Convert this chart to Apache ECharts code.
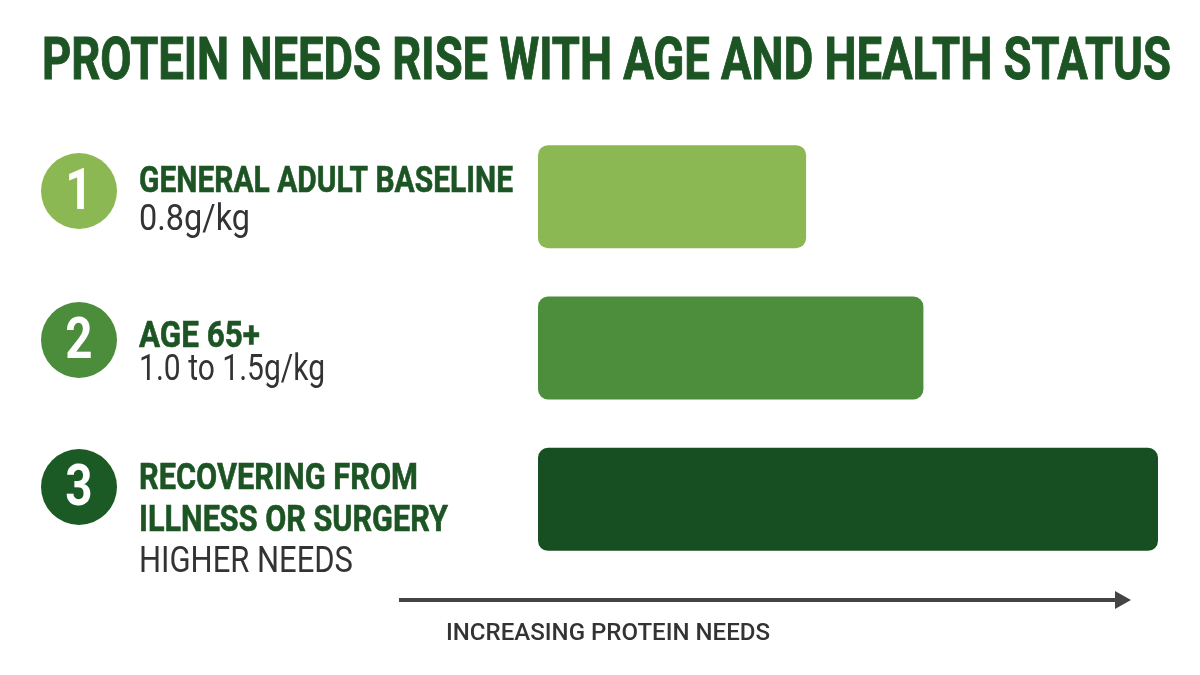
<!DOCTYPE html>
<html><head><meta charset="utf-8">
<script src="https://cdn.jsdelivr.net/npm/echarts@6/dist/echarts.min.js"></script>
<style>html,body{margin:0;padding:0;background:#ffffff}#c{width:1200px;height:675px}</style>
</head><body><div id="c"></div>
<script>
// ---- data ----
const titleText = 'PROTEIN NEEDS RISE WITH AGE AND HEALTH STATUS';
const categories = ['GENERAL ADULT BASELINE', 'AGE 65+', 'RECOVERING FROM ILLNESS OR SURGERY'];
const headingLines = [['GENERAL ADULT BASELINE'], ['AGE 65+'], ['RECOVERING FROM', 'ILLNESS OR SURGERY']];
const subLabels = ['0.8g/kg', '1.0 to 1.5g/kg', 'HIGHER NEEDS'];
const stepNumbers = ['1', '2', '3'];
const values = [0.8, 1.15, 1.85];
const axisCaption = 'INCREASING PROTEIN NEEDS';

// ---- styles / layout ----
const palette = ['#8bb853', '#4d8e3c', '#174f22'];
const circleColors = ['#8bb853', '#4c8d3c', '#1b5a25'];
const headColor = '#1c5424';
const subColor = '#333333';
const rowLayout = [
  {cy: 191, head: [{y: 183, w: 374}], sub: {y: 221, w: 111}},
  {cy: 340, head: [{y: 337.5, w: 121}], sub: {y: 370.5, w: 186}},
  {cy: 487, head: [{y: 479.5, w: 279}, {y: 521.5, w: 309}], sub: {y: 563, w: 214}}
];

const ctx = document.createElement('canvas').getContext('2d');
function txt(text, x, y, size, weight, color, target, align, strokeW) {
  const font = weight + ' ' + size + 'px Roboto';
  ctx.font = font;
  const s = target ? target / ctx.measureText(text).width : 1;
  const style = {text: text, x: 0, y: 0, font: font, fill: color,
    textAlign: align || 'left', align: align || 'left',
    textVerticalAlign: 'middle', verticalAlign: 'middle'};
  if (strokeW) { style.stroke = color; style.lineWidth = strokeW; }
  return {type: 'text', x: x, y: y, scaleX: s, silent: true, style: style};
}

const graphics = [];
graphics.push(txt(titleText, 42, 63.5, 60, 'bold', headColor, 1129, 'left', 1));
rowLayout.forEach((r, i) => {
  graphics.push({type: 'circle', silent: true, shape: {cx: 79, cy: r.cy, r: 38}, style: {fill: circleColors[i]}});
  const ds = txt(stepNumbers[i], 79, r.cy + 3, 58, 'bold', '#ffffff', null, 'center');
  ds.scaleX = 0.82;
  graphics.push(ds);
  headingLines[i].forEach((line, j) => {
    graphics.push(txt(line, 139, r.head[j].y, 37, 'bold', headColor, r.head[j].w, 'left', 0.6));
  });
  graphics.push(txt(subLabels[i], 139, r.sub.y, 36, 'normal', subColor, r.sub.w));
});
graphics.push({type: 'line', silent: true, shape: {x1: 399, y1: 600, x2: 1120, y2: 600},
  style: {stroke: '#444444', lineWidth: 4}});
graphics.push({type: 'polygon', silent: true, shape: {points: [[1115, 591], [1131, 600], [1115, 609]]},
  style: {fill: '#444444'}});
graphics.push(txt(axisCaption, 446, 633.5, 24, '500', '#333333', 324));

const chart = echarts.init(document.getElementById('c'), null, {renderer: 'canvas'});
chart.setOption({
  backgroundColor: '#ffffff',
  animation: false,
  grid: {left: 538, right: 42, top: 121, height: 454, containLabel: false},
  xAxis: {type: 'value', min: 0, max: 1.85, show: false},
  yAxis: {type: 'category', data: categories, inverse: true, show: false},
  series: [{
    type: 'bar',
    barWidth: 103,
    data: values.map((v, i) => ({value: v, itemStyle: {color: palette[i]}})),
    itemStyle: {borderRadius: 10},
    label: {show: false}
  }],
  graphic: graphics
});
</script></body></html>
